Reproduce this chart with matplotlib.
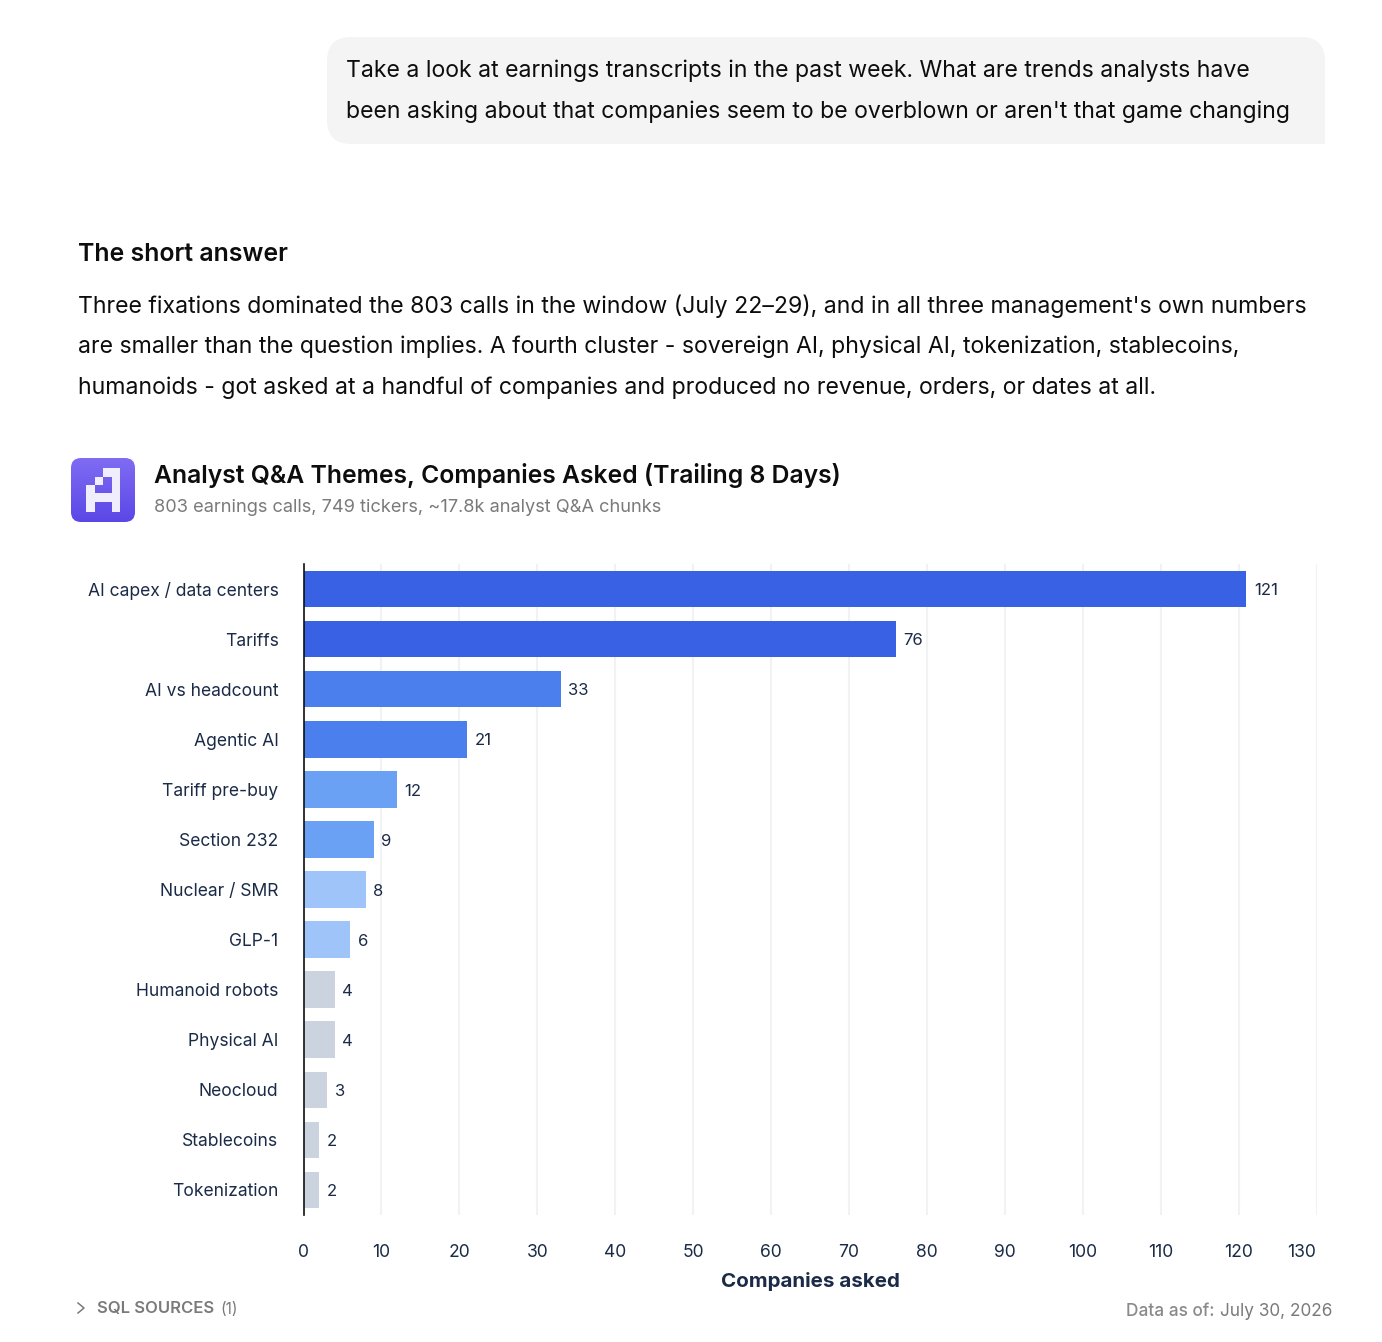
import numpy as np
import matplotlib
matplotlib.use("Agg")
import matplotlib.pyplot as plt
from matplotlib.patches import FancyBboxPatch, Rectangle, PathPatch
from matplotlib.path import Path

W, H = 1382, 1342
categories = ["AI capex / data centers", "Tariffs", "AI vs headcount", "Agentic AI",
              "Tariff pre-buy", "Section 232", "Nuclear / SMR", "GLP-1",
              "Humanoid robots", "Physical AI", "Neocloud", "Stablecoins", "Tokenization"]
values = [121, 76, 33, 21, 12, 9, 8, 6, 4, 4, 3, 2, 2]
colors = ["#3861E4", "#3861E4", "#4C7FEE", "#4C7FEE", "#6AA1F5", "#6AA1F5",
          "#9FC4FA", "#9FC4FA", "#CBD3DF", "#CBD3DF", "#CBD3DF", "#CBD3DF", "#CBD3DF"]
xticks = list(range(0, 131, 10))

plt.rcParams["font.family"] = ["Inter", "DejaVu Sans"]
fig = plt.figure(figsize=(W / 100, H / 100), dpi=100, facecolor="white")

# page overlay in pixel coordinates
pg = fig.add_axes([0, 0, 1, 1], zorder=0)
pg.set_xlim(0, W); pg.set_ylim(H, 0); pg.axis("off")

pg.add_patch(FancyBboxPatch((327 + 24, 37 + 24), 998 - 48, 107 - 48,
                            boxstyle="round,pad=24,rounding_size=24", fc="#F4F4F4", ec="none"))
pg.add_patch(Rectangle((1300, 120), 25, 24, fc="#F4F4F4", ec="none"))

INK = "#0D0D0D"
body = 16.62
pg.text(346, 71, "Take a look at earnings transcripts in the past week. What are trends analysts have",
        fontsize=body, color=INK, va="center")
pg.text(346, 112, "been asking about that companies seem to be overblown or aren't that game changing",
        fontsize=body, color=INK, va="center")
pg.text(78, 254.5, "The short answer", fontsize=17.9, fontweight="semibold", color=INK, va="center")
pg.text(78, 306, "Three fixations dominated the 803 calls in the window (July 22–29), and in all three management's own numbers",
        fontsize=body, color=INK, va="center")
pg.text(78, 347, "are smaller than the question implies. A fourth cluster - sovereign AI, physical AI, tokenization, stablecoins,",
        fontsize=body, color=INK, va="center")
pg.text(78, 388, "humanoids - got asked at a handful of companies and produced no revenue, orders, or dates at all.",
        fontsize=body, color=INK, va="center")
pg.text(154, 476, "Analyst Q&A Themes, Companies Asked (Trailing 8 Days)", fontsize=17.8,
        fontweight="semibold", color=INK, va="center")
pg.text(154, 507, "803 earnings calls, 749 tickers, ~17.8k analyst Q&A chunks", fontsize=13.1,
        color="#7A7A7A", va="center")

# logo
clip = FancyBboxPatch((71 + 10, 458 + 10), 64 - 20, 64 - 20,
                      boxstyle="round,pad=10,rounding_size=10", fc="none", ec="none")
pg.add_patch(clip)
grad = np.linspace(0, 1, 64)[:, None]
top = np.array([0x7F, 0x6C, 0xF3]) / 255
bot = np.array([0x5B, 0x47, 0xE6]) / 255
img = (top[None, None, :] * (1 - grad[..., None]) + bot[None, None, :] * grad[..., None])
im = pg.imshow(img, extent=(71, 135, 522, 458), aspect="auto", zorder=1)
im.set_clip_path(clip)
pg.set_xlim(0, W); pg.set_ylim(H, 0)
outer = [(86, 512), (86, 485), (95, 485), (95, 477), (103, 477), (103, 468), (120, 468),
         (120, 512), (112, 512), (112, 502), (95, 502), (95, 512), (86, 512)]
inner = [(95, 485), (95, 493), (112, 493), (112, 477), (103, 477), (103, 485), (95, 485)]
verts = outer + inner
codes = ([Path.MOVETO] + [Path.LINETO] * (len(outer) - 2) + [Path.CLOSEPOLY]
         + [Path.MOVETO] + [Path.LINETO] * (len(inner) - 2) + [Path.CLOSEPOLY])
pg.add_patch(PathPatch(Path(verts, codes), fc="#F0EEFC", ec="none", zorder=2))

# footer
pg.plot([78, 84, 78], [1303, 1308, 1313], color="#7A7A7A", lw=1.1)
pg.text(97, 1309, "SQL SOURCES", fontsize=12, fontweight="semibold", color="#7A7A7A", va="center")
pg.text(220, 1309, "(1)", fontsize=11, color="#7A7A7A", va="center")
pg.text(1126, 1312, "Data as of:", fontsize=12.4, fontweight="medium", color="#8A8A8A", va="center")
pg.text(1220, 1312, "July 30, 2026", fontsize=12.4, color="#7A7A7A", va="center")

# chart
L, R, T, B = 303.5, 1316.5, 564, 1215
ax = fig.add_axes([L / W, 1 - B / H, (R - L) / W, (B - T) / H], zorder=2)
ax.patch.set_alpha(0)
y = np.arange(len(categories))
ax.barh(y, values, height=0.73, color=colors, zorder=3)
ax.set_xlim(0, 130)
ax.set_ylim(len(categories) - 0.5, -0.5)
ax.set_yticks(y, categories)
ax.set_xticks(xticks, [str(v) for v in xticks])
ax.tick_params(axis="both", length=0, colors="#1B2B47", labelsize=12.6)
ax.tick_params(axis="y", pad=18)
ax.tick_params(axis="x", pad=21)
ax.xaxis.get_ticklabels()[-1].set_ha("right")
ax.grid(axis="x", color="#F0F2F4", lw=1.5, zorder=0)
for s in ("top", "right", "bottom"):
    ax.spines[s].set_visible(False)
ax.spines["left"].set_color("#111111")
ax.spines["left"].set_linewidth(1.2)
ax.spines["left"].set_zorder(5)
for yi, v in zip(y, values):
    ax.annotate(str(v), (v, yi), xytext=(5.5, -1.2), textcoords="offset points",
                va="center", ha="left", fontsize=12, color="#1B2B47")
ax.set_xlabel("Companies asked", fontsize=14.8, fontweight="bold", color="#1B2B47", labelpad=8)

fig.savefig("out.png", dpi=100)
